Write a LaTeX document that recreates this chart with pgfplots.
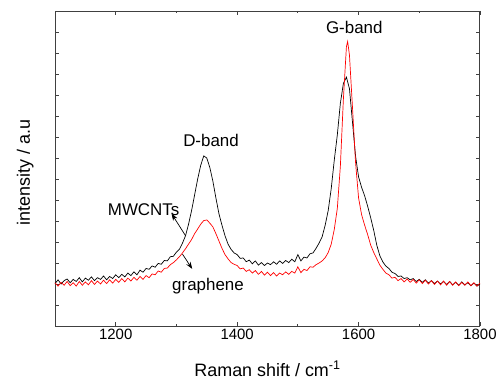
\documentclass[border=0pt]{standalone}
\usepackage{pgfplots}
\pgfplotsset{compat=1.18}
\usepackage{pgfplotstable}
\usepackage{fontspec}
\setmainfont{Liberation Sans}
\usetikzlibrary{arrows.meta}

\pgfplotstableread{
x y
1100 2.02
1105 2.20
1110 2.00
1115 2.16
1120 2.24
1125 2.06
1130 2.22
1135 2.12
1140 2.30
1145 2.10
1150 2.28
1155 2.18
1160 2.34
1165 2.16
1170 2.30
1175 2.22
1180 2.38
1185 2.20
1190 2.36
1195 2.26
1200 2.44
1205 2.30
1210 2.46
1215 2.34
1220 2.52
1225 2.40
1230 2.58
1235 2.44
1240 2.66
1245 2.56
1250 2.74
1255 2.70
1260 2.86
1265 2.80
1270 2.98
1275 2.94
1280 3.12
1285 3.10
1290 3.30
1295 3.32
1300 3.52
1305 3.66
1310 3.95
1315 4.30
1320 4.85
1325 5.50
1330 6.25
1335 7.00
1340 7.65
1345 8.10
1350 8.00
1355 7.55
1360 6.90
1365 6.10
1370 5.35
1375 4.80
1380 4.30
1385 3.90
1390 3.65
1395 3.48
1400 3.40
1405 3.22
1410 3.24
1415 3.06
1420 3.14
1425 2.96
1430 3.10
1435 2.90
1440 3.02
1445 2.88
1450 3.00
1455 2.92
1460 3.06
1465 2.94
1470 3.10
1475 2.98
1480 3.12
1485 3.02
1490 3.18
1495 3.06
1500 3.40
1505 3.10
1510 3.28
1515 3.24
1520 3.44
1525 3.48
1530 3.70
1535 3.95
1540 4.25
1545 4.80
1550 5.50
1555 6.55
1560 7.90
1565 9.10
1570 10.60
1575 11.55
1580 11.85
1585 11.30
1590 9.70
1595 8.10
1600 7.10
1605 6.60
1610 6.20
1615 5.70
1620 5.15
1625 4.55
1630 3.85
1635 3.35
1640 3.05
1645 2.85
1650 2.74
1655 2.56
1660 2.50
1665 2.36
1670 2.38
1675 2.26
1680 2.30
1685 2.20
1690 2.26
1695 2.12
1700 2.22
1705 2.08
1710 2.20
1715 2.04
1720 2.16
1725 2.02
1730 2.14
1735 2.00
1740 2.12
1745 1.98
1750 2.12
1755 1.96
1760 2.08
1765 1.94
1770 2.10
1775 1.96
1780 2.06
1785 1.92
1790 2.04
1795 1.90
1800 2.00
}\mwcnt

\pgfplotstableread{
x y
1100 2.06
1105 1.90
1110 2.08
1115 1.94
1120 2.12
1125 1.92
1130 2.06
1135 1.90
1140 2.12
1145 1.94
1150 2.10
1155 1.96
1160 2.16
1165 1.98
1170 2.14
1175 2.00
1180 2.18
1185 2.02
1190 2.20
1195 2.04
1200 2.22
1205 2.08
1210 2.26
1215 2.10
1220 2.28
1225 2.14
1230 2.32
1235 2.18
1240 2.36
1245 2.22
1250 2.40
1255 2.30
1260 2.48
1265 2.44
1270 2.62
1275 2.56
1280 2.74
1285 2.76
1290 2.92
1295 3.02
1300 3.15
1305 3.30
1310 3.48
1315 3.68
1320 3.90
1325 4.12
1330 4.40
1335 4.62
1340 4.85
1345 5.02
1350 5.05
1355 4.90
1360 4.72
1365 4.40
1370 4.05
1375 3.70
1380 3.40
1385 3.20
1390 3.02
1395 2.94
1400 2.88
1405 2.72
1410 2.76
1415 2.60
1420 2.68
1425 2.52
1430 2.64
1435 2.46
1440 2.60
1445 2.42
1450 2.56
1455 2.40
1460 2.54
1465 2.38
1470 2.52
1475 2.44
1480 2.58
1485 2.46
1490 2.60
1495 2.52
1500 2.82
1505 2.54
1510 2.70
1515 2.64
1520 2.82
1525 2.80
1530 2.92
1535 3.00
1540 3.10
1545 3.25
1550 3.50
1555 3.90
1560 4.60
1565 5.60
1570 7.60
1575 10.80
1580 13.30
1582 13.55
1585 12.90
1590 10.40
1595 7.80
1600 6.10
1605 5.30
1610 4.80
1615 4.35
1620 3.85
1625 3.50
1630 3.20
1635 2.90
1640 2.70
1645 2.52
1650 2.44
1655 2.28
1660 2.32
1665 2.16
1670 2.26
1675 2.10
1680 2.24
1685 2.08
1690 2.22
1695 2.04
1700 2.20
1705 2.02
1710 2.18
1715 2.00
1720 2.16
1725 1.98
1730 2.14
1735 1.96
1740 2.14
1745 1.94
1750 2.12
1755 1.94
1760 2.10
1765 1.92
1770 2.08
1775 1.94
1780 2.10
1785 1.92
1790 2.06
1795 1.90
1800 2.04
}\graphene

\begin{document}
\begin{tikzpicture}
\useasboundingbox (-55bp,-54bp) rectangle (443bp,326bp);
\begin{axis}[
  at={(0,0)}, anchor=south west,
  scale only axis,
  width=425bp, height=315bp,
  xmin=1100, xmax=1800, ymin=0, ymax=15,
  xtick={1200,1400,1600,1800},
  minor xtick={1300,1500,1700},
  ytick={1,...,14},
  yticklabels={},
  tick align=inside,
  major tick length=4bp, minor tick length=2.5bp,
  tick style={line width=0.8pt, color=black!75},
  axis line style={line width=1pt, color=black!75},
  /pgf/number format/assume math mode=true,
  /pgf/number format/1000 sep={},
  tick label style={font=\fontsize{15}{18}\selectfont},
  xtick pos=both, ytick pos=both,
  xlabel={Raman shift / cm\textsuperscript{-1}},
  ylabel={intensity / a.u},
  label style={font=\fontsize{18}{21}\selectfont},
  xlabel style={at={(axis description cs:0.5,-0.159)}, anchor=base},
  ylabel style={at={(axis description cs:-0.059,0.487)}, anchor=base},
  clip=false,
]
\addplot[black, line width=0.7pt] table[x=x,y=y] {\mwcnt};
\addplot[red, line width=0.7pt] table[x=x,y=y] {\graphene};
\node[anchor=base, font=\fontsize{17}{20}\selectfont] at (axis cs:1357,8.54) {D-band};
\node[anchor=base, font=\fontsize{17}{20}\selectfont] at (axis cs:1593,13.93) {G-band};
\node[anchor=base, font=\fontsize{17}{20}\selectfont] at (axis cs:1246,5.24) {MWCNTs};
\node[anchor=base, font=\fontsize{17}{20}\selectfont] at (axis cs:1352,1.71) {graphene};
\draw[-{Stealth[length=7pt,width=5pt]}, line width=0.7pt] (axis cs:1315,4.30) -- (axis cs:1292,5.35);
\draw[-{Stealth[length=7pt,width=5pt]}, line width=0.7pt] (axis cs:1310,3.42) -- (axis cs:1326,2.72);
\end{axis}
\end{tikzpicture}
\end{document}
